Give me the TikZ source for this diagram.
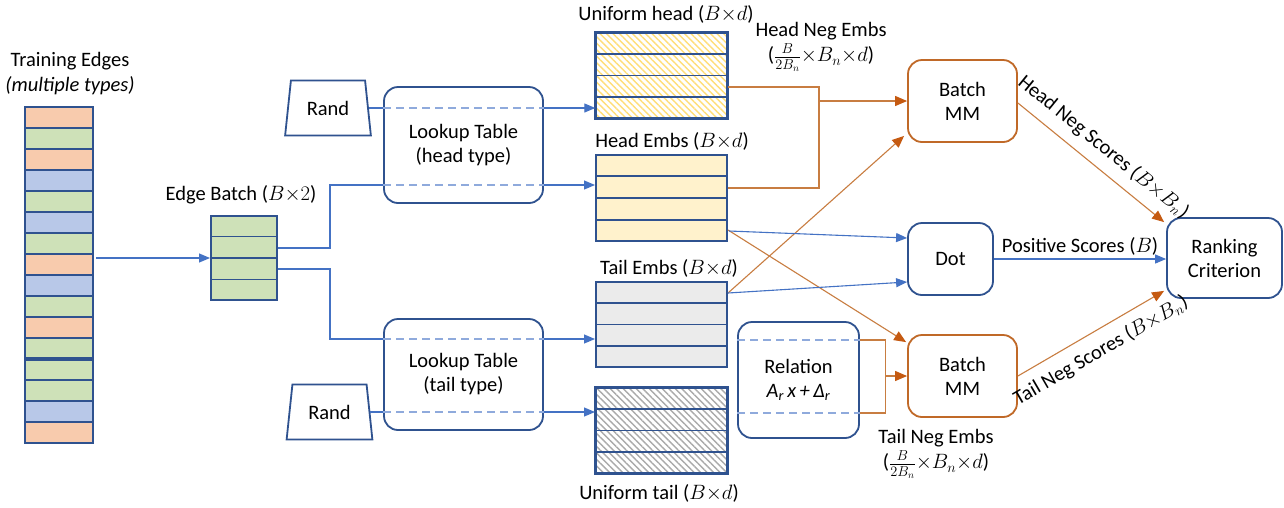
\documentclass[tikz,border=0pt]{standalone}
\usepackage{fontspec}
\setmainfont{Carlito}
\usetikzlibrary{arrows.meta,shapes.geometric,patterns.meta,calc}
\definecolor{bdark}{RGB}{47,82,143}
\definecolor{bline}{RGB}{68,114,196}
\definecolor{bdash}{RGB}{143,170,220}
\definecolor{oline}{RGB}{200,125,65}
\definecolor{obox}{RGB}{192,105,40}
\definecolor{ohead}{RGB}{197,90,17}
\definecolor{cor}{RGB}{248,203,173}
\definecolor{cgr}{RGB}{206,225,184}
\definecolor{cbl}{RGB}{184,200,232}
\definecolor{cye}{RGB}{255,242,204}
\definecolor{cgy}{RGB}{235,235,235}
\definecolor{hye}{RGB}{255,222,120}
\definecolor{hgy}{RGB}{170,170,170}
\begin{document}
\begin{tikzpicture}[x=1pt,y=-1pt,font=\fontsize{20.5}{24}\selectfont,
  blk/.style={draw=bdark,line width=2pt,inner sep=0pt,minimum width=131pt,minimum height=85pt},
  rbox/.style={draw=bdark,line width=1.8pt,rounded corners=14pt,align=center,inner sep=0pt},
  obx/.style={draw=obox,line width=1.8pt,rounded corners=14pt,align=center,inner sep=0pt,minimum width=109pt,minimum height=82pt},
  randbox/.style={draw=bdark,line width=1.8pt,trapezium,trapezium left angle=77,trapezium right angle=77,minimum width=86pt,minimum height=55pt,trapezium stretches=true,inner sep=0pt},
  bl/.style={draw=bline,line width=1.1pt},
  bla/.style={bl,-{Triangle[length=11pt,width=9pt]}},
  dsh/.style={draw=bdash,line width=1.1pt,dash pattern=on 8pt off 5pt},
  ol/.style={draw=oline,line width=1.1pt},
  ola/.style={ol,-{Triangle[length=12pt,width=10pt,fill=ohead,color=ohead]}},
  lbl/.style={inner sep=0pt,align=center},
  cellline/.style={draw=bdark,line width=1.8pt},
  hatch/.style={pattern={Lines[angle=-45,distance=4.6pt,line width=1.4pt]},pattern color=#1}
]
\fill[white] (0,0) rectangle (1284,507);
\useasboundingbox (0,0) rectangle (1284,507);

% Training edges stack
\node[lbl] (trt) at (70,61) {Training Edges};
\node[lbl] (trs) at (70,86) {\itshape (multiple types)};
\path (59,275) node[inner sep=0pt,minimum width=68pt,minimum height=336pt] (tr) {};
\foreach \c [count=\i from 0] in {cor,cgr,cor,cbl,cgr,cbl,cgr,cor,cbl,cgr,cor,cgr,cgr,cgr,cbl,cor}
  \fill[\c] ($(tr.north west)+(0,21*\i)$) rectangle ($(tr.north east)+(0,21*\i+21)$);
\foreach \i in {1,...,15}
  \draw[cellline] ($(tr.north west)+(0,21*\i)$) -- ($(tr.north east)+(0,21*\i)$);
\draw[draw=bdark,line width=3.6pt] ($(tr.north west)+(0,252)$) -- ($(tr.north east)+(0,252)$);
\draw[draw=bdark,line width=2pt] (tr.north west) rectangle (tr.south east);

% Edge batch
\node[lbl] (ebl) at (241,195) {Edge Batch ($B{\times}2$)};
\node[blk,fill=cgr,minimum width=66pt,minimum height=84pt] (eb) at (244,258) {};
\foreach \i in {1,2,3}
  \draw[cellline] ($(eb.north west)!\i/4!(eb.south west)$) -- ($(eb.north east)!\i/4!(eb.south east)$);

% Rand and lookup tables
\node[randbox] (randT) at (328,108) {Rand};
\node[randbox] (randB) at (329.5,412) {Rand};
\node[rbox,minimum width=159pt,minimum height=116pt] (lkH) at (463.5,145) {Lookup Table\\(head type)};
\node[rbox,minimum width=159pt,minimum height=111pt] (lkT) at (463.5,374.5) {Lookup Table\\(tail type)};

% Embedding blocks
\node[blk,hatch=hye] (uh) at (661.5,75.5) {};
\node[blk,fill=cye,minimum height=86pt] (he) at (661.5,198) {};
\node[blk,fill=cgy] (te) at (661.5,324.5) {};
\node[blk,hatch=hgy] (ut) at (661.5,430.5) {};
\foreach \n in {uh,he,te,ut}
  \foreach \i in {1,2,3}
    \draw[cellline] ($(\n.north west)!\i/4!(\n.south west)$) -- ($(\n.north east)!\i/4!(\n.south east)$);
\draw[draw=bdark,line width=2pt] (uh.north west) rectangle (uh.south east);
\draw[draw=bdark,line width=2pt] (ut.north west) rectangle (ut.south east);
\node[lbl] (uhl) at (666,14) {Uniform head ($B{\times}d$)};
\node[lbl] (hel) at (672,141) {Head Embs ($B{\times}d$)};
\node[lbl] (tel) at (669,268) {Tail Embs ($B{\times}d$)};
\node[lbl] (utl) at (659,493) {Uniform tail ($B{\times}d$)};

% Relation, batch MM, dot, ranking
\node[rbox,minimum width=121pt,minimum height=116pt] (rel) at (798.5,380) {Relation\\{\itshape A\textsubscript{r}\,x\,+\,Δ\textsubscript{r}}};
\node[obx] (bmH) at (962.5,101) {Batch\\MM};
\node[obx] (bmT) at (962.5,376) {Batch\\MM};
\node[rbox,minimum width=85pt,minimum height=72pt] (dot) at (950.5,259) {Dot};
\node[rbox,minimum width=115pt,minimum height=80pt] (rc) at (1224.5,258) {Ranking\\Criterion};
\node[lbl] (hnl) at (821,47) {Head Neg Embs\\[1pt](${\frac{B}{2B_n}}{\times}B_n{\times}d$)};
\node[lbl] (tnl) at (936,454) {Tail Neg Embs\\[1pt](${\frac{B}{2B_n}}{\times}B_n{\times}d$)};

% Connectors: training -> edge batch
\draw[bla] (tr.east |- eb.west) ++(3,0) -- (eb.west);
% edge batch -> head / tail embs
\coordinate (jh) at (330,185);
\coordinate (jt) at (330,339);
\draw[bl] ($(eb.east)+(0,-10)$) -| (jh) -- (jh -| lkH.west);
\draw[dsh] (jh -| lkH.west) -- (jh -| lkH.east);
\draw[bla] (jh -| lkH.east) -- (jh -| he.west);
\draw[bl] ($(eb.east)+(0,11)$) -| (jt) -- (jt -| lkT.west);
\draw[dsh] (jt -| lkT.west) -- (jt -| lkT.east);
\draw[bla] (jt -| lkT.east) -- (jt -| te.west);
% rand -> uniform
\draw[bl] (randT.east) -- (randT.east -| lkH.west);
\draw[dsh] (randT.east -| lkH.west) -- (randT.east -| lkH.east);
\draw[bla] (randT.east -| lkH.east) -- (randT.east -| uh.west);
\draw[bl] (randB.east) -- (randB.east -| lkT.west);
\draw[dsh] (randB.east -| lkT.west) -- (randB.east -| lkT.east);
\draw[bla] (randB.east -| lkT.east) -- (randB.east -| ut.west);

% orange bracket top
\coordinate (bk1) at (818,102);
\draw[ol] ($(uh.east)+(0,11.5)$) -| ($(he.east)+(91,-10)$) -- ($(he.east)+(0,-10)$);
\draw[ola] (bmH.west -| bk1) -- (bmH.west);
% relation dashed + bracket bottom
\draw[dsh] ($(rel.west)+(0,-40)$) -- ($(rel.east)+(0,-40)$);
\draw[dsh] ($(rel.west)+(0,33)$) -- ($(rel.east)+(0,33)$);
\coordinate (rb) at ($(rel.east)+(26,0)$);
\draw[ol] ($(rel.east)+(0,-40)$) -| ($(rel.east)+(26,33)$) -- ($(rel.east)+(0,33)$);
\draw[ola] (rb |- bmT.west) -- (bmT.west);
% crossing
\draw[ola] ($(te.east)+(0,-31.5)$) -- ($(bmH.south west)+(-3,-7)$);
\draw[ola] ($(he.east)+(0,32)$) -- ($(bmT.north west)+(-1,8)$);
% blue to dot
\draw[bla] ($(he.east)+(1,33)$) -- ($(dot.west)+(0,-21)$);
\draw[bla] ($(te.east)+(0,-31.5)$) -- ($(dot.west)+(0,23)$);
% scores
\draw[bla] (dot.east) -- (dot.east -| rc.west) node[midway,above=3pt,inner sep=0pt] {Positive Scores ($B$)};
\draw[ola] ($(bmH.east)+(0,2)$) -- ($(rc.north west)+(-2,5)$) node[midway,sloped,above,inner sep=10pt] {Head Neg Scores ($B{\times}B_n$)};
\draw[ola] (bmT.east) -- ($(rc.south west)+(-2,-8)$) node[midway,sloped,below,inner sep=10pt] {Tail Neg Scores ($B{\times}B_n$)};
\end{tikzpicture}
\end{document}
